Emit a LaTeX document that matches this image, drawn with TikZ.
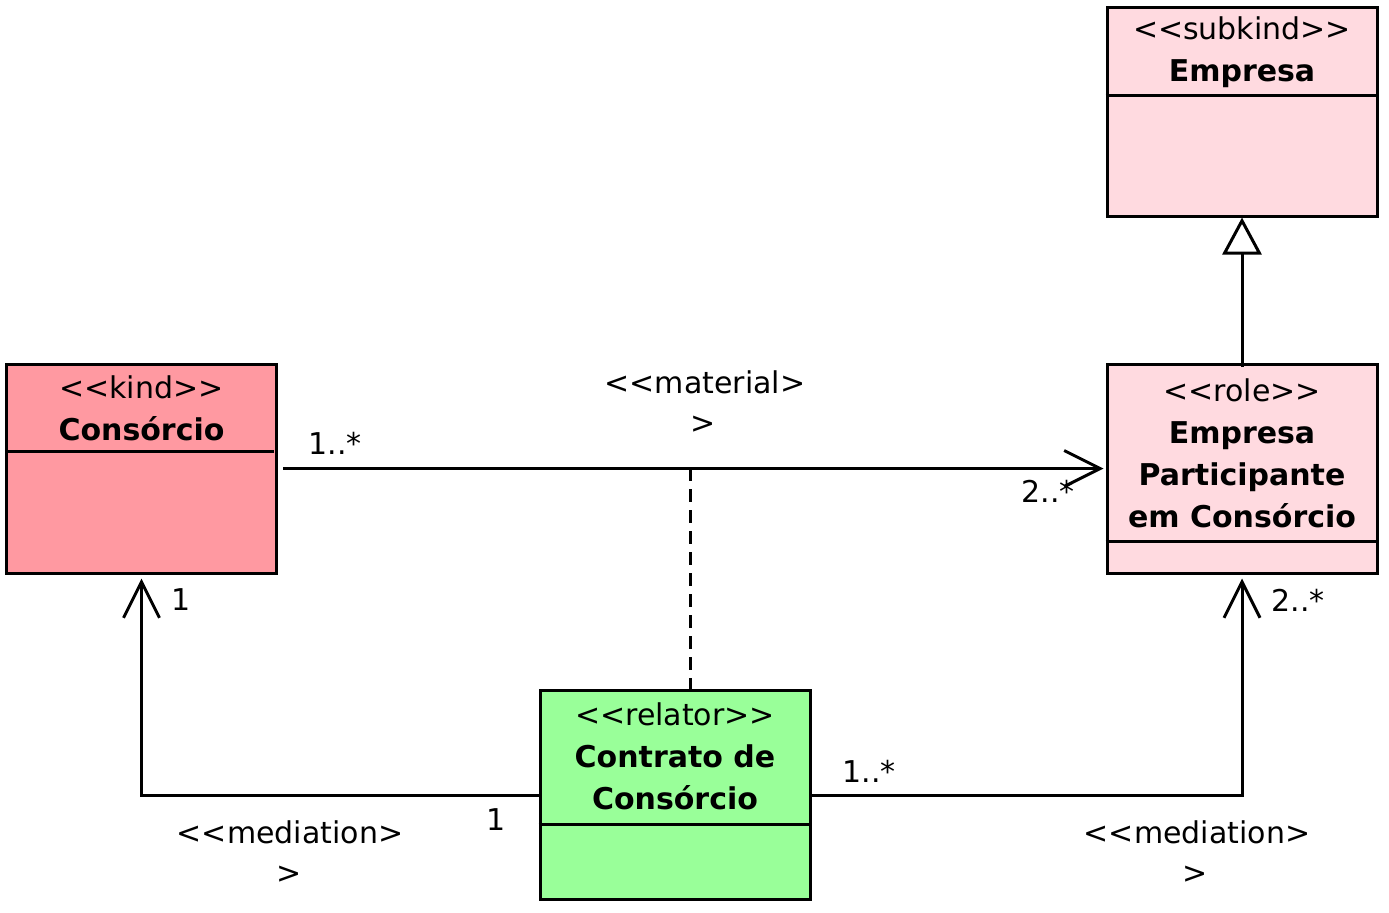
\documentclass[tikz,border=0pt]{standalone}
\usepackage{fontspec}
\newfontfamily\dv{DejaVu Sans}
\usetikzlibrary{arrows.meta,calc}
\definecolor{kindc}{RGB}{255,153,161}
\definecolor{rolec}{RGB}{255,218,224}
\definecolor{relc}{RGB}{153,255,153}
\begin{document}
\begin{tikzpicture}[x=0.5pt,y=-0.5pt, line width=1.5pt,
  every node/.style={font=\dv\fontsize{15}{21}\selectfont, inner sep=0pt},
  box/.style={draw, line width=1.5pt, minimum width=135pt, minimum height=104.5pt},
  lbl/.style={align=center},
  barb/.style={-{Straight Barb[length=18pt,width=18pt,line width=1.5pt]}},
  gen/.style={-{Triangle[open,length=18.5pt,width=19.5pt,fill=white,line width=1.5pt]}},
  dsh/.style={dash pattern=on 6.5pt off 4pt}]
\useasboundingbox (0,0) rectangle (1389,912);
% boxes
\node[box, fill=rolec] (emp) at (1242,111.5) {};
\node[box, fill=kindc] (cons) at (141.5,468.5) {};
\node[box, fill=rolec] (role) at (1242,468.5) {};
\node[box, fill=relc] (rel) at (675,795) {};
% dividers
\draw (emp.north west) ++(0,90) -- ++(270,0);
\draw (cons.north west) ++(0,89) -- ++(269,0);
\draw (role.north west) ++(0,179) -- ++(270,0);
\draw (rel.north west) ++(0,135) -- ++(270,0);
% box texts
\node[lbl] (empt) at (1242,52) {<<subkind>>\\\bfseries Empresa};
\node[lbl] (const) at (141.5,408) {<<kind>>\\\bfseries Consórcio};
\node[lbl] (rolet) at (1242,453.5) {<<role>>\\\bfseries Empresa\\\bfseries Participante\\\bfseries em Consórcio};
\node[lbl] (relt) at (675,756.5) {<<relator>>\\\bfseries Contrato de\\\bfseries Consórcio};
% connectors
\draw[barb, shorten <=2.5pt, shorten >=1pt] (cons.east) -- (role.west);
\coordinate (mid) at (690,468);
\draw[dsh] (mid) -- (mid |- rel.north);
\draw[barb, shorten >=2pt] (rel.west) -| (cons.south);
\draw[barb, shorten >=2pt] (rel.east) -| (role.south);
\draw[gen, shorten <=-2pt, shorten >=0pt] (role.north) -- (emp.south);
% labels
\node (m1) at (705,382) {<<material>};
\node (m2) at (703,425) {>};
\node (c1) at (335,443) {1..*};
\node (c2) at (1048,491) {2..*};
\node (c3) at (181,600) {1};
\node (c4) at (1298,600) {2..*};
\node (c5) at (496,820) {1};
\node (c6) at (869,771) {1..*};
\node (md1) at (290,832) {<<mediation>};
\node (md2) at (289,875) {>};
\node (md3) at (1197,832) {<<mediation>};
\node (md4) at (1195,875) {>};
\end{tikzpicture}
\end{document}
